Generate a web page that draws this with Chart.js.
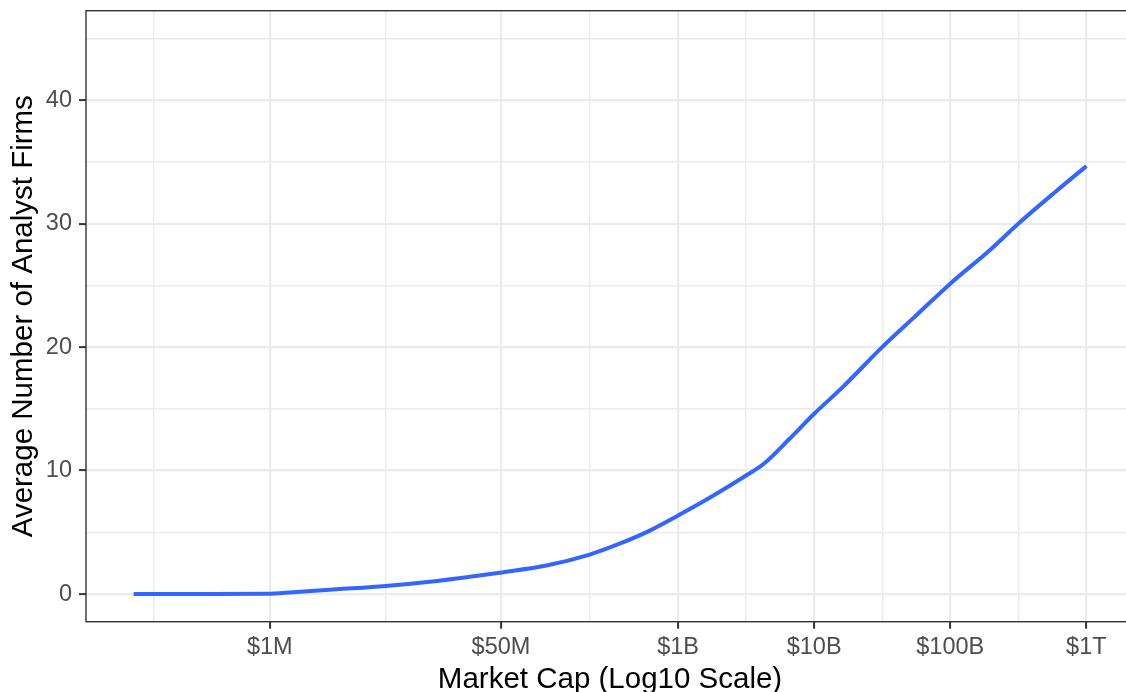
<!DOCTYPE html>
<html>
<head>
<meta charset="utf-8">
<script src="https://cdn.jsdelivr.net/npm/chart.js@4.4.1/dist/chart.umd.min.js"></script>
<style>
  html, body { margin: 0; padding: 0; background: #fff; overflow: hidden; width: 1126px; height: 692px; }
  #grafica { display: block; }
</style>
</head>
<body>
<canvas id="grafica" width="1136" height="692"></canvas>
<script>
// smoothed average number of analyst firms by market cap
var marketCap = [1e5, 3.2e5, 9.5e5, 1.48e6, 3.1e6, 7.1e6, 1.5e7, 2.95e7, 4.9e7, 1.1e8, 2.24e8, 3.72e8, 6.2e8,
                 1e9, 1.82e9, 3.16e9, 4.27e9, 6.6e9, 1e10, 1.62e10, 3.16e10, 5.62e10, 1e11, 1.95e11, 3.16e11, 6.03e11, 1e12];
var avgFirms  = [0, 0, 0.02, 0.14, 0.38, 0.65, 1.0, 1.4, 1.73, 2.33, 3.2, 4.08, 5.14,
                 6.36, 7.98, 9.6, 10.55, 12.58, 14.6, 16.76, 20.0, 22.57, 25.14, 27.85, 30.0, 32.65, 34.66];

var xBreaks = [1e6, 5e7, 1e9, 1e10, 1e11, 1e12];
var xLabels = ['$1M', '$50M', '$1B', '$10B', '$100B', '$1T'];
var yBreaks = [0, 10, 20, 30, 40];

// minor breaks sit halfway (in log space) between the major ones
var xMinor = [xBreaks[0] / Math.sqrt(xBreaks[1] / xBreaks[0])];
for (var i = 0; i < xBreaks.length - 1; i++) {
  xMinor.push(Math.sqrt(xBreaks[i] * xBreaks[i + 1]));
}
var yMinor = [5, 15, 25, 35, 45];

function esMayorX(v) {
  for (var i = 0; i < xBreaks.length; i++) {
    if (Math.abs(Math.log10(v) - Math.log10(xBreaks[i])) < 1e-6) return i;
  }
  return -1;
}

var FUENTE = "'Liberation Sans', Arial, sans-serif";

// panel border, drawn over everything like ggplot does
var bordePanel = {
  id: 'bordePanel',
  afterDraw: function(chart) {
    var a = chart.chartArea, ctx = chart.ctx;
    ctx.save();
    ctx.strokeStyle = '#333333';
    ctx.lineWidth = 1.4;
    ctx.strokeRect(a.left, a.top, a.right - a.left, a.bottom - a.top);
    ctx.restore();
  }
};

var datos = marketCap.map(function(v, i) { return { x: v, y: avgFirms[i] }; });

var ctx = document.getElementById('grafica').getContext('2d');
window.grafica_ = new Chart(ctx, {
  type: 'line',
  data: {
    datasets: [{
      data: datos,
      borderColor: '#3366FF',
      borderWidth: 4,
      pointRadius: 0,
      fill: false,
      cubicInterpolationMode: 'monotone'
    }]
  },
  options: {
    responsive: false,
    animation: false,
    layout: { padding: { top: 10.7, right: 2, left: 0, bottom: 0 } },
    plugins: { legend: { display: false }, tooltip: { enabled: false } },
    scales: {
      x: {
        type: 'logarithmic',
        min: Math.pow(10, 4.65),
        max: Math.pow(10, 12.35),
        afterBuildTicks: function(scale) {
          scale.ticks = xMinor.concat(xBreaks).sort(function(a, b) { return a - b; })
            .map(function(v) { return { value: v }; });
        },
        afterFit: function(scale) {
          scale.height = 70.3;
          scale.paddingLeft = 0;
          scale.paddingRight = 0;
        },
        border: { display: false },
        grid: {
          color: '#EBEBEB',
          lineWidth: function(c) { return esMayorX(c.tick.value) >= 0 ? 2.2 : 1.4; },
          drawTicks: true,
          tickLength: 7,
          tickWidth: 2,
          tickColor: function(c) { return esMayorX(c.tick.value) >= 0 ? '#333333' : 'rgba(0,0,0,0)'; }
        },
        ticks: {
          autoSkip: false,
          maxRotation: 0,
          padding: 5,
          color: '#4D4D4D',
          font: { family: FUENTE, size: 23.5 },
          callback: function(value) {
            var k = esMayorX(value);
            return k >= 0 ? xLabels[k] : '';
          }
        },
        title: {
          display: true,
          text: 'Market Cap (Log10 Scale)',
          color: '#000000',
          font: { family: FUENTE, size: 29.5, lineHeight: 0.8 },
          padding: { top: 0, bottom: 0 }
        }
      },
      y: {
        type: 'linear',
        min: -2.24,
        max: 47.25,
        afterBuildTicks: function(scale) {
          scale.ticks = yMinor.concat(yBreaks).sort(function(a, b) { return a - b; })
            .map(function(v) { return { value: v }; });
        },
        afterFit: function(scale) {
          scale.width = 86;
          scale.paddingTop = 0;
          scale.paddingBottom = 0;
        },
        border: { display: false },
        grid: {
          color: '#EBEBEB',
          lineWidth: function(c) { return yBreaks.indexOf(c.tick.value) >= 0 ? 2.2 : 1.4; },
          drawTicks: true,
          tickLength: 7,
          tickWidth: 2,
          tickColor: function(c) { return yBreaks.indexOf(c.tick.value) >= 0 ? '#333333' : 'rgba(0,0,0,0)'; }
        },
        ticks: {
          autoSkip: false,
          padding: 7,
          color: '#4D4D4D',
          font: { family: FUENTE, size: 23.5 },
          callback: function(value) {
            return yBreaks.indexOf(value) >= 0 ? String(value) : '';
          }
        },
        title: {
          display: true,
          text: 'Average Number of Analyst Firms',
          color: '#000000',
          font: { family: FUENTE, size: 29.5, lineHeight: 1 },
          padding: { top: 9, bottom: 0 }
        }
      }
    }
  },
  plugins: [bordePanel]
});
</script>
</body>
</html>
